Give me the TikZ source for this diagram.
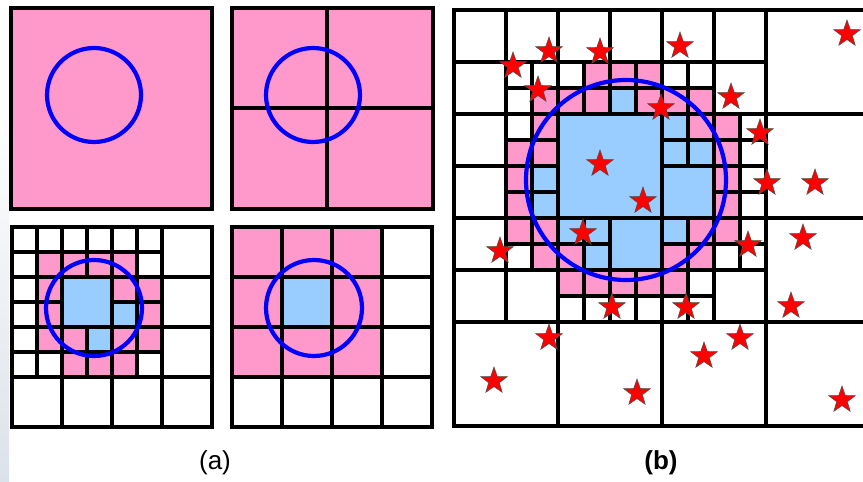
\documentclass[tikz,border=0pt]{standalone}
\usepackage{fontspec}
\setmainfont{Liberation Sans}
\usepackage{xcolor}
\usetikzlibrary{shapes.geometric}
\definecolor{cellpink}{HTML}{FF99CC}
\definecolor{cellblue}{HTML}{99CCFF}
\definecolor{ringblue}{HTML}{0000FF}
\definecolor{slidegray}{HTML}{DCE2EA}

\begin{document}
\begin{tikzpicture}[x=1pt,y=-1pt,every node/.style={font=\fontsize{26}{30}\selectfont}]
    \tikzstyle{cellline}=[draw=black,line width=3.2pt];
    \tikzstyle{ring}=[draw=ringblue,line width=4.2pt];
    \tikzstyle{redstar}=[star,star points=5,star point ratio=2.5,minimum size=28pt,
                         inner sep=0pt,fill=red,draw=black!70,line width=0.5pt];
    \clip (0,0) rectangle (863,482);
    \shade[top color=white,bottom color=slidegray] (0,110) rectangle (9,482);

    % (a) top left: one cell
    \filldraw[cellline,fill=cellpink] (11,8) rectangle (212,209);
    \draw[ring] (94,95) circle (47pt);

    % (a) top right: first split
    \filldraw[cellline,fill=cellpink] (232,8) rectangle (433,209);
    \draw[cellline] (327,8) -- (327,209) (232,108) -- (433,108);
    \draw[ring] (313,95) circle (47pt);

    % (a) bottom left: fine level
    \begin{scope}[shift={(12,227)},x=25pt,y=-25pt]
      \foreach \i/\j in {1/1,2/1,3/1,4/1,1/2,4/2,5/2,1/3,5/3,1/4,2/4,4/4,5/4,2/5,3/5,4/5}
        \fill[cellpink] (\i,\j) rectangle ++(1,1);
      \fill[cellblue] (2,2) rectangle ++(2,2);
      \foreach \i/\j in {4/3,3/4}
        \fill[cellblue] (\i,\j) rectangle ++(1,1);
      \draw[cellline] (0,0) rectangle (8,8);
      \foreach \k in {2,4,6}
        \draw[cellline] (\k,0) -- (\k,8) (0,\k) -- (8,\k);
      \foreach \k in {1,5}
        \draw[cellline] (\k,0) -- (\k,6) (0,\k) -- (6,\k);
      \draw[cellline] (3,0) -- (3,2) (3,4) -- (3,6) (0,3) -- (2,3) (4,3) -- (6,3);
    \end{scope}
    \draw[ring] (94,308) circle (48pt);

    % (a) bottom right: coarse level
    \begin{scope}[shift={(232,227)},x=50pt,y=-50pt]
      \fill[cellpink] (0,0) rectangle (3,3);
      \fill[cellblue] (1,1) rectangle ++(1,1);
      \draw[cellline] (0,0) rectangle (4,4);
      \foreach \k in {1,2,3}
        \draw[cellline] (\k,0) -- (\k,4) (0,\k) -- (4,\k);
    \end{scope}
    \draw[ring] (314,308) circle (48pt);

    % (b): adaptive tree with points
    \begin{scope}[shift={(454,10)},x=52pt,y=-52pt]
      \foreach \i/\j in {1.5/1.5,2.5/1,2/1.5,2.5/1.5,3/1,3.5/1,3.5/1.5,4/1.5,4.5/1.5,
                         1.5/2,1/2.5,1.5/2.5,4.5/2,5/2,5/2.5,1/3,1/3.5,5/3,5/3.5,
                         1/4,1.5/4,1.5/4.5,2/4.5,4.5/4,4/4.5,4.5/4.5,5/4,
                         2/5,2.5/5,3/5,3.5/5,4/5}
        \fill[cellpink] (\i,\j) rectangle ++(.5,.5);
      \foreach \i/\j in {3/1.5,4/2,4/2.5,4.5/2.5,1.5/3,1.5/3.5,2/4,2.5/4,2.5/4.5,4/4}
        \fill[cellblue] (\i,\j) rectangle ++(.5,.5);
      \fill[cellblue] (4,3) rectangle ++(1,1) (3,4) rectangle ++(1,1);
      \fill[cellblue] (2,2) rectangle ++(2,2);
      \draw[cellline] (0,0) rectangle (8,8);
      \foreach \k in {2,4,6}
        \draw[cellline] (\k,0) -- (\k,8) (0,\k) -- (8,\k);
      \foreach \k in {1,5}
        \draw[cellline] (\k,0) -- (\k,6) (0,\k) -- (6,\k);
      \draw[cellline] (3,0) -- (3,2) (3,4) -- (3,6) (0,3) -- (2,3) (4,3) -- (6,3);
      \foreach \i/\j in {1/1,2/1,3/1,4/1,1/2,4/2,5/2,1/3,5/3,1/4,2/4,4/4,5/4,2/5,3/5,4/5}
        \draw[cellline] (\i+.5,\j) -- ++(0,1) (\i,\j+.5) -- ++(1,0);
    \end{scope}
    \draw[ring] (626,180) circle (100pt);
    \foreach \x/\y [count=\k] in {513/66,549/51,600/52,680/46,847/34,538/90,731/97,661/108,
                                  760/133,600/164,767/183,815/183,643/201,583/233,500/251,
                                  748/245,803/238,612/307,686/307,791/306,549/338,740/338,
                                  704/356,494/381,637/393,842/400}
      \node[redstar] (pt\k) at (\x,\y) {};

    % captions
    \node (capa) at (215,463) {(a)};
    \node[font=\fontsize{26}{30}\selectfont\bfseries] (capb) at (661,463) {(b)};
\end{tikzpicture}
\end{document}
